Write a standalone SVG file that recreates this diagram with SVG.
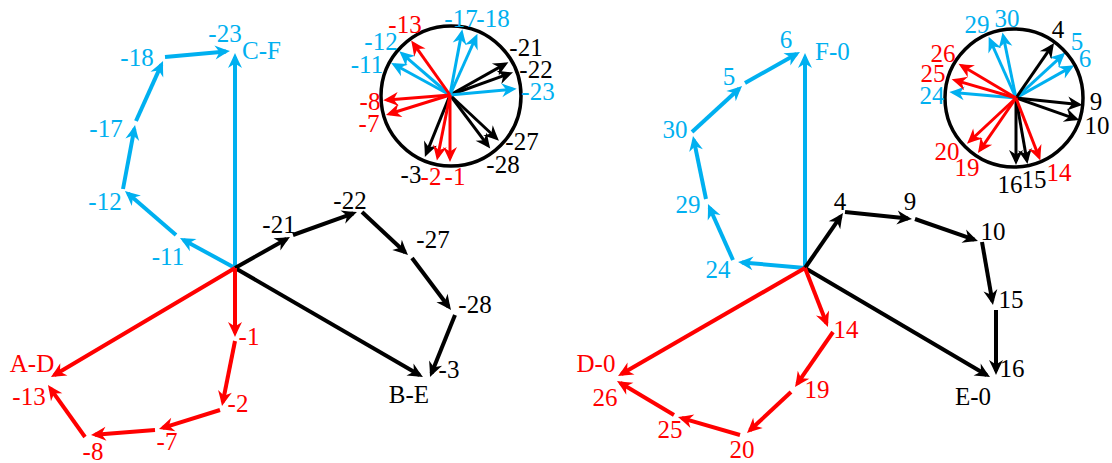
<svg xmlns="http://www.w3.org/2000/svg" width="1112" height="463" viewBox="0 0 1112 463">
<style>
.v{fill:none;stroke-width:4;stroke-linecap:butt}
.in{stroke-width:3}
.k{stroke:#000}.r{stroke:#ff0000}.c{stroke:#00b0f0}
.k{marker-end:url(#ak)}.r{marker-end:url(#ar)}.c{marker-end:url(#ac)}
.ring{fill:none;stroke:#000;stroke-width:3.5}
text{font-family:"Liberation Serif","Times New Roman",serif;font-size:25px;text-anchor:middle}
.tk{fill:#000}.tr{fill:#ff0000}.tc{fill:#00b0f0}
.st{text-anchor:start}
</style>
<defs>
<marker id="ak" markerUnits="userSpaceOnUse" markerWidth="30" markerHeight="30" viewBox="-15 -15 30 30" refX="0" refY="0" orient="auto" overflow="visible"><path d="M4,0 Q-3,-3 -11,-7 L-6.5,0 L-11,7 Q-3,3 4,0 Z" fill="#000"/></marker>
<marker id="ar" markerUnits="userSpaceOnUse" markerWidth="30" markerHeight="30" viewBox="-15 -15 30 30" refX="0" refY="0" orient="auto" overflow="visible"><path d="M4,0 Q-3,-3 -11,-7 L-6.5,0 L-11,7 Q-3,3 4,0 Z" fill="#ff0000"/></marker>
<marker id="ac" markerUnits="userSpaceOnUse" markerWidth="30" markerHeight="30" viewBox="-15 -15 30 30" refX="0" refY="0" orient="auto" overflow="visible"><path d="M4,0 Q-3,-3 -11,-7 L-6.5,0 L-11,7 Q-3,3 4,0 Z" fill="#00b0f0"/></marker>
</defs>

<g id="connectors">
<g id="left-cyan">
<path class="v c" d="M235,268 L235,57"/>
<path class="v c" d="M235,268 L183.5,239.9"/>
<path class="v c" d="M176,235 L128,193.6"/>
<path class="v c" d="M123,189 L134.3,128.9"/>
<path class="v c" d="M136,121 L161.4,64.6"/>
<path class="v c" d="M165,57 L226,51.4"/>
</g>
<g id="left-black">
<path class="v k" d="M235,268 L419.5,375"/>
<path class="v k" d="M235,268 L286.5,239"/>
<path class="v k" d="M293,235 L353.2,213.4"/>
<path class="v k" d="M362,212 L405.1,252.3"/>
<path class="v k" d="M412,258 L448.6,306.8"/>
<path class="v k" d="M455,315 L431.5,373.3"/>
</g>
<g id="left-red">
<path class="v r" d="M235,268 L54.4,375"/>
<path class="v r" d="M235,268 L235,333"/>
<path class="v r" d="M235,341 L222.8,402.1"/>
<path class="v r" d="M220,410 L162.8,427.8"/>
<path class="v r" d="M155,430 L95,434.7"/>
<path class="v r" d="M85,437 L50.3,388.3"/>
</g>
<g id="left-inset">
<path class="v in k" d="M450,95 L504.9,64.1"/>
<path class="v in k" d="M450,95 L509.3,73.7"/>
<path class="v in k" d="M450,95 L496,138"/>
<path class="v in k" d="M450,95 L487.8,145.4"/>
<path class="v in k" d="M450,95 L426.4,153.4"/>
<path class="v in c" d="M450,95 L394.7,64.8"/>
<path class="v in c" d="M450,95 L402.3,53.9"/>
<path class="v in c" d="M450,95 L461.6,33.1"/>
<path class="v in c" d="M450,95 L475.8,37.5"/>
<path class="v in c" d="M450,95 L512.7,89.2"/>
<path class="v in r" d="M450,95 L450,158"/>
<path class="v in r" d="M450,95 L437.7,156.7"/>
<path class="v in r" d="M450,95 L389.8,113.7"/>
<path class="v in r" d="M450,95 L387.2,99.9"/>
<path class="v in r" d="M450,95 L413.5,43.7"/>
</g>
<g id="right-cyan">
<path class="v c" d="M805,268 L805,57"/>
<path class="v c" d="M805,268 L742,262.4"/>
<path class="v c" d="M733,260 L709.6,207.7"/>
<path class="v c" d="M706,199 L693.8,139.9"/>
<path class="v c" d="M692,132 L739.1,88.7"/>
<path class="v c" d="M745,83 L796.5,54"/>
</g>
<g id="right-black">
<path class="v k" d="M805,268 L986.6,375"/>
<path class="v k" d="M805,268 L840.7,216.3"/>
<path class="v k" d="M845,212 L908,218.6"/>
<path class="v k" d="M915,219 L974.2,239.7"/>
<path class="v k" d="M982,242 L992.3,301.1"/>
<path class="v k" d="M996,310 L996,371"/>
</g>
<g id="right-red">
<path class="v r" d="M805,268 L621.5,374"/>
<path class="v r" d="M805,268 L826.5,323.3"/>
<path class="v r" d="M833,332 L797.3,383.7"/>
<path class="v r" d="M791,392 L749.9,430.3"/>
<path class="v r" d="M740,435 L681.8,418.1"/>
<path class="v r" d="M674,415 L620.4,383"/>
</g>
<g id="right-inset">
<path class="v in c" d="M1016,98 L953.3,92.4"/>
<path class="v in c" d="M1016,98 L990.3,40.5"/>
<path class="v in c" d="M1016,98 L1003.3,36.3"/>
<path class="v in c" d="M1016,98 L1062.4,55.3"/>
<path class="v in c" d="M1016,98 L1070.9,67.1"/>
<path class="v in k" d="M1016,98 L1051.8,46.2"/>
<path class="v in k" d="M1016,98 L1078.6,104.6"/>
<path class="v in k" d="M1016,98 L1075.5,118.8"/>
<path class="v in k" d="M1016,98 L1026.8,160.1"/>
<path class="v in k" d="M1016,98 L1016,161"/>
<path class="v in r" d="M1016,98 L1038.9,156.7"/>
<path class="v in r" d="M1016,98 L980.2,149.8"/>
<path class="v in r" d="M1016,98 L969.9,141"/>
<path class="v in r" d="M1016,98 L955.5,80.4"/>
<path class="v in r" d="M1016,98 L961.9,65.7"/>
</g>
</g>

<g id="ring-left"><circle class="ring" cx="451" cy="96" r="70"/></g>
<g id="ring-right"><circle class="ring" cx="1014" cy="98" r="69"/></g>

<g id="labels-left">
<text class="tc" x="225" y="42">-23</text>
<text class="tc st" x="242" y="59">C-F</text>
<text class="tc" x="137" y="66">-18</text>
<text class="tc" x="106" y="137">-17</text>
<text class="tc" x="105" y="210">-12</text>
<text class="tc" x="168" y="265">-11</text>
<text class="tk" x="279" y="233">-21</text>
<text class="tk" x="350" y="209">-22</text>
<text class="tk" x="433" y="248">-27</text>
<text class="tk" x="475" y="313">-28</text>
<text class="tk" x="449" y="378">-3</text>
<text class="tk" x="409" y="403">B-E</text>
<text class="tr" x="249" y="345">-1</text>
<text class="tr" x="238" y="412">-2</text>
<text class="tr" x="167" y="450">-7</text>
<text class="tr" x="93" y="460">-8</text>
<text class="tr" x="29" y="405">-13</text>
<text class="tr" x="32" y="372">A-D</text>
</g>
<g id="labels-left-inset">
<text class="tr" x="405" y="33">-13</text>
<text class="tc" x="461" y="27">-17</text>
<text class="tc" x="493" y="27">-18</text>
<text class="tc" x="381" y="50">-12</text>
<text class="tc" x="367" y="73">-11</text>
<text class="tk" x="526" y="56">-21</text>
<text class="tk" x="536" y="78">-22</text>
<text class="tc" x="538" y="100">-23</text>
<text class="tr" x="370" y="110">-8</text>
<text class="tr" x="369" y="132">-7</text>
<text class="tk" x="522" y="150">-27</text>
<text class="tk" x="503" y="173">-28</text>
<text class="tk" x="411" y="183">-3</text>
<text class="tr" x="431" y="185">-2</text>
<text class="tr" x="455" y="185">-1</text>
</g>
<g id="labels-right">
<text class="tc" x="786" y="48">6</text>
<text class="tc st" x="815" y="60">F-0</text>
<text class="tc" x="729" y="85">5</text>
<text class="tc" x="675" y="138">30</text>
<text class="tc" x="688" y="213">29</text>
<text class="tc" x="718" y="278">24</text>
<text class="tk" x="840" y="210">4</text>
<text class="tk" x="910" y="210">9</text>
<text class="tk" x="993" y="240">10</text>
<text class="tk" x="1011" y="308">15</text>
<text class="tk" x="1012" y="377">16</text>
<text class="tk" x="973" y="405">E-0</text>
<text class="tr" x="846" y="338">14</text>
<text class="tr" x="817" y="398">19</text>
<text class="tr" x="742" y="458">20</text>
<text class="tr" x="670" y="438">25</text>
<text class="tr" x="605" y="406">26</text>
<text class="tr" x="596" y="372">D-0</text>
</g>
<g id="labels-right-inset">
<text class="tc" x="977" y="33">29</text>
<text class="tc" x="1007" y="27">30</text>
<text class="tk" x="1058" y="38">4</text>
<text class="tc" x="1077" y="50">5</text>
<text class="tc" x="1085" y="67">6</text>
<text class="tr" x="943" y="62">26</text>
<text class="tr" x="933" y="82">25</text>
<text class="tc" x="932" y="104">24</text>
<text class="tk" x="1096" y="110">9</text>
<text class="tk" x="1097" y="134">10</text>
<text class="tr" x="947" y="160">20</text>
<text class="tr" x="967" y="176">19</text>
<text class="tk" x="1010" y="193">16</text>
<text class="tk" x="1034" y="188">15</text>
<text class="tr" x="1059" y="181">14</text>
</g>
</svg>
